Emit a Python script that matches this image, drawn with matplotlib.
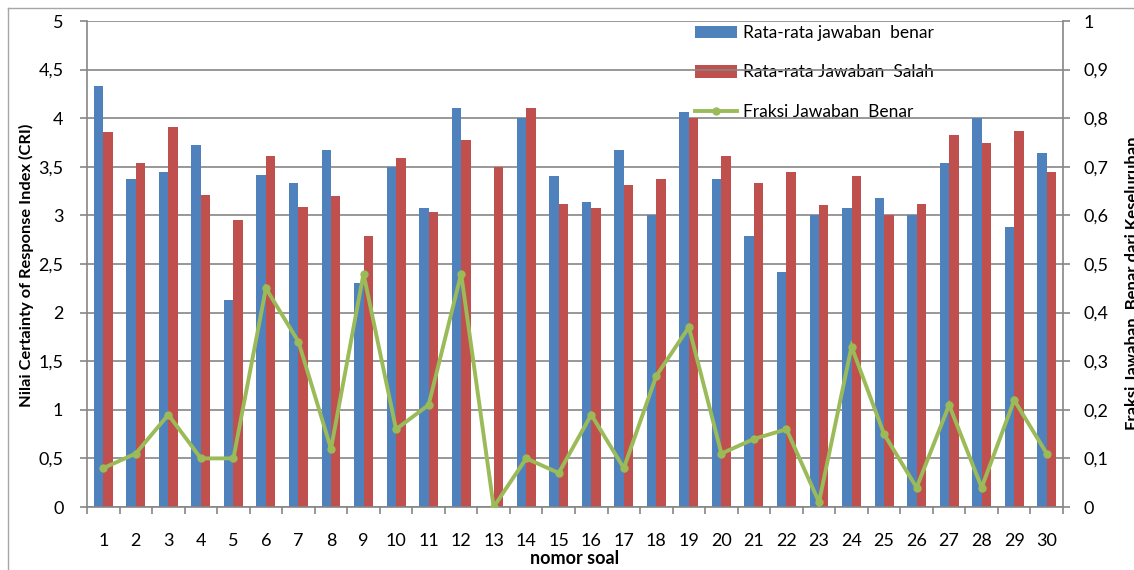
import matplotlib
matplotlib.use("Agg")
import matplotlib.pyplot as plt
from matplotlib.lines import Line2D
import numpy as np

plt.rcParams['font.family'] = ['Lato', 'DejaVu Sans']

# Data ---------------------------------------------------------------
soal = list(range(1, 31))
rata_benar = [4.33, 3.37, 3.45, 3.72, 2.13, 3.42, 3.33, 3.67, 2.30, 3.50,
              3.08, 4.11, 0.00, 4.00, 3.41, 3.14, 3.67, 3.00, 4.06, 3.37,
              2.79, 2.42, 3.00, 3.08, 3.18, 3.00, 3.54, 4.00, 2.88, 3.64]
rata_salah = [3.86, 3.54, 3.91, 3.21, 2.95, 3.61, 3.09, 3.20, 2.79, 3.59,
              3.04, 3.78, 3.50, 4.11, 3.12, 3.08, 3.31, 3.37, 4.00, 3.61,
              3.33, 3.45, 3.11, 3.41, 3.00, 3.12, 3.83, 3.75, 3.87, 3.45]
fraksi_benar = [0.08, 0.11, 0.19, 0.10, 0.10, 0.45, 0.34, 0.12, 0.48, 0.16,
                0.21, 0.48, 0.00, 0.10, 0.07, 0.19, 0.08, 0.27, 0.37, 0.11,
                0.14, 0.16, 0.01, 0.33, 0.15, 0.04, 0.21, 0.04, 0.22, 0.11]

cri_ticks = [0, 0.5, 1, 1.5, 2, 2.5, 3, 3.5, 4, 4.5, 5]
cri_labels = ['0', '0,5', '1', '1,5', '2', '2,5', '3', '3,5', '4', '4,5', '5']
frac_ticks = [0, 0.1, 0.2, 0.3, 0.4, 0.5, 0.6, 0.7, 0.8, 0.9, 1]
frac_labels = ['0', '0,1', '0,2', '0,3', '0,4', '0,5', '0,6', '0,7', '0,8', '0,9', '1']

label_benar = 'Rata-rata jawaban  benar'
label_salah = 'Rata-rata Jawaban  Salah'
label_fraksi = 'Fraksi Jawaban  Benar'

# Style --------------------------------------------------------------
BLUE = '#4F81BD'
RED = '#C0504D'
GREEN = '#9BBB59'
GRAY = '#868686'

W, H = 1134, 570
fig = plt.figure(figsize=(W / 100, H / 100), dpi=100)
fig.patch.set_facecolor('white')

# chart-area border
fig.add_artist(Line2D([8 / W, 8 / W], [0, 1 - 8 / H], transform=fig.transFigure,
                      color='#a6a6a6', lw=1.0))
fig.add_artist(Line2D([8 / W, 1], [1 - 8 / H, 1 - 8 / H], transform=fig.transFigure,
                      color='#a6a6a6', lw=1.0))

left, right, top, bottom = 87, 1063, 21, 507
ax = fig.add_axes([left / W, 1 - bottom / H, (right - left) / W, (bottom - top) / H])
ax.set_facecolor('none')

x = np.array(soal, dtype=float)
bw = 0.29
b1 = ax.bar(x - bw / 2, rata_benar, width=bw, color=BLUE, zorder=2, label=label_benar)
b2 = ax.bar(x + bw / 2, rata_salah, width=bw, color=RED, zorder=2, label=label_salah)

ax.set_xlim(0.5, 30.5)
ax.set_ylim(0, 5)
ax.set_yticks(cri_ticks)
ax.set_yticklabels(cri_labels)
ax.yaxis.grid(True, color=GRAY, lw=1.2)
ax.set_axisbelow(True)

# category boundaries carry the tick marks, labels sit at category centres
ax.set_xticks(np.arange(0.5, 31, 1.0))
ax.set_xticklabels([])
ax.set_xticks(x, minor=True)
ax.set_xticklabels([str(s) for s in soal], minor=True)
ax.tick_params(axis='x', which='major', length=5, width=1.2, color=GRAY, direction='out')
ax.tick_params(axis='x', which='minor', length=0, pad=19, labelsize=13)
ax.tick_params(axis='y', length=5, width=1.2, color=GRAY, direction='out', pad=12, labelsize=13)

for s in ['top', 'right']:
    ax.spines[s].set_visible(False)
for s in ['left', 'bottom']:
    ax.spines[s].set_color(GRAY)
    ax.spines[s].set_linewidth(1.2)

ax2 = ax.twinx()
ax2.set_ylim(0, 1)
ax2.set_yticks(frac_ticks)
ax2.set_yticklabels(frac_labels)
ln, = ax2.plot(x, fraksi_benar, color=GREEN, lw=2.8, marker='o', markersize=5,
               label=label_fraksi, solid_joinstyle='miter')
ax2.tick_params(axis='y', length=5, width=1.2, color=GRAY, direction='out', pad=10, labelsize=13)
for s in ['top', 'left', 'bottom']:
    ax2.spines[s].set_visible(False)
ax2.spines['right'].set_color(GRAY)
ax2.spines['right'].set_linewidth(1.2)

leg = ax.legend([b1, b2, ln], [label_benar, label_salah, label_fraksi],
                loc='upper left', bbox_to_anchor=(695 / W, 1 - 25 / H),
                bbox_transform=fig.transFigure, frameon=False, fontsize=12.5,
                handlelength=2.4, handleheight=0.75, handletextpad=0.35,
                labelspacing=1.35, borderpad=0, borderaxespad=0)
leg.set_zorder(0.4)

fig.text(26 / W, 1 - 265 / H, 'Nilai Certainty of Response Index (CRI)', rotation=90,
         ha='center', va='center', fontsize=11.8, fontweight='bold')
fig.text(1133 / W, 1 - 283 / H, 'Fraksi Jawaban  Benar dari Keseluruhan', rotation=90,
         ha='center', va='center', fontsize=12, fontweight='bold')
fig.text(575 / W, 1 - 558 / H, 'nomor soal', ha='center', va='center',
         fontsize=13, fontweight='bold')

fig.savefig('out.png', dpi=100)
